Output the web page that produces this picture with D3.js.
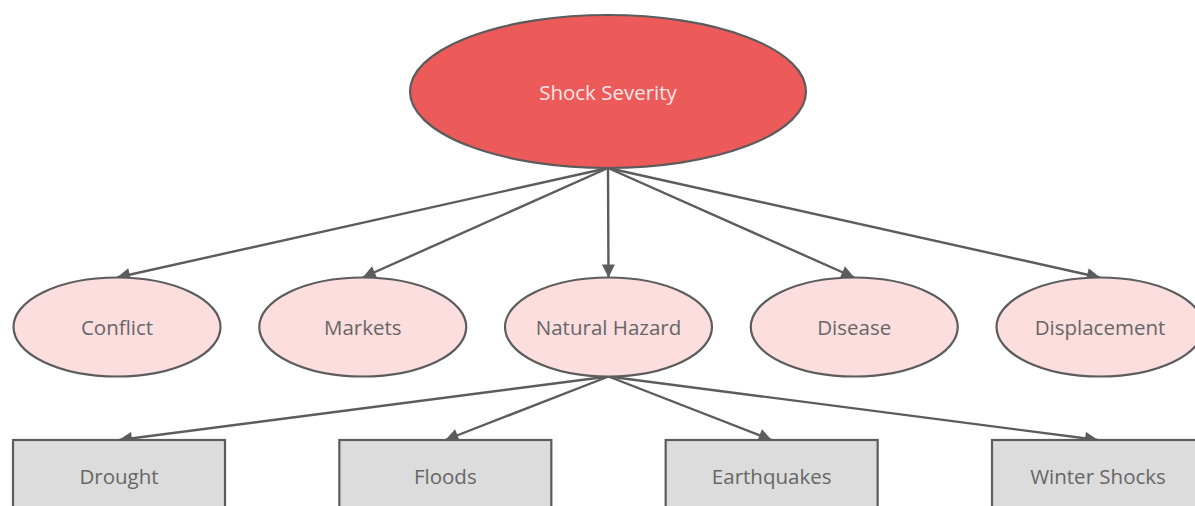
<!DOCTYPE html>
<html><head><meta charset="utf-8">
<script src="https://cdn.jsdelivr.net/npm/d3@7"></script>
<style>html,body{margin:0;padding:0;background:#fff;}svg{display:block;}</style>
</head><body>
<svg id="chart" width="1195" height="506"></svg>
<script>
const rootLabel = "Shock Severity";
const shockTypes = ["Conflict", "Markets", "Natural Hazard", "Disease", "Displacement"];
const hazardParent = "Natural Hazard";
const hazards = ["Drought", "Floods", "Earthquakes", "Winter Shocks"];

const W = 1195, H = 506;
const svg = d3.select("#chart");
const font = "'Open Sans', 'Noto Sans', sans-serif";
const stroke = "#5c5c5c";

const root = {cx: 608, cy: 91.5, rx: 198, ry: 76.5};
const l2 = {cy: 327, rx: 103.5, ry: 49.5};
const box = {y: 440, w: 212, h: 74};

const x2 = d3.scalePoint().domain(shockTypes).range([117, 1100]);
const x3 = d3.scalePoint().domain(hazards).range([119, 1098]);

svg.append("defs").append("marker")
  .attr("id", "arr").attr("viewBox", "0 0 10 10")
  .attr("refX", 10).attr("refY", 5)
  .attr("markerWidth", 15).attr("markerHeight", 13)
  .attr("markerUnits", "userSpaceOnUse").attr("orient", "auto")
  .append("path").attr("d", "M0,0L10,5L0,10Z").attr("fill", stroke);

// edges root -> level 2
svg.append("g").selectAll("line").data(shockTypes).join("line")
  .attr("x1", root.cx).attr("y1", root.cy + root.ry)
  .attr("x2", d => x2(d)).attr("y2", l2.cy - l2.ry)
  .attr("stroke", stroke).attr("stroke-width", 2.4)
  .attr("marker-end", "url(#arr)");

// edges hazard -> boxes
svg.append("g").selectAll("line").data(hazards).join("line")
  .attr("x1", x2(hazardParent)).attr("y1", l2.cy + l2.ry)
  .attr("x2", d => x3(d)).attr("y2", box.y)
  .attr("stroke", stroke).attr("stroke-width", 2.4)
  .attr("marker-end", "url(#arr)");

// root node
svg.append("ellipse").attr("cx", root.cx).attr("cy", root.cy)
  .attr("rx", root.rx).attr("ry", root.ry)
  .attr("fill", "#ed5a5a").attr("stroke", stroke).attr("stroke-width", 2.2);
svg.append("text").attr("x", root.cx).attr("y", root.cy)
  .attr("text-anchor", "middle").attr("dominant-baseline", "central")
  .attr("font-family", font).attr("font-size", 20.5).attr("fill", "#ffe6e6")
  .text(rootLabel);

// level 2 nodes
const g2 = svg.append("g").selectAll("g").data(shockTypes).join("g");
g2.append("ellipse").attr("cx", d => x2(d)).attr("cy", l2.cy)
  .attr("rx", l2.rx).attr("ry", l2.ry)
  .attr("fill", "#fcdede").attr("stroke", stroke).attr("stroke-width", 2.2);
g2.append("text").attr("x", d => x2(d)).attr("y", l2.cy)
  .attr("text-anchor", "middle").attr("dominant-baseline", "central")
  .attr("font-family", font).attr("font-size", 20.5).attr("fill", "#666")
  .text(d => d);

// boxes
const g3 = svg.append("g").selectAll("g").data(hazards).join("g");
g3.append("rect").attr("x", d => x3(d) - box.w / 2).attr("y", box.y)
  .attr("width", box.w).attr("height", box.h)
  .attr("fill", "#dcdcdc").attr("stroke", stroke).attr("stroke-width", 2.2);
g3.append("text").attr("x", d => x3(d)).attr("y", 476)
  .attr("text-anchor", "middle").attr("dominant-baseline", "central")
  .attr("font-family", font).attr("font-size", 20.5).attr("fill", "#666")
  .text(d => d);
</script>
</body></html>
